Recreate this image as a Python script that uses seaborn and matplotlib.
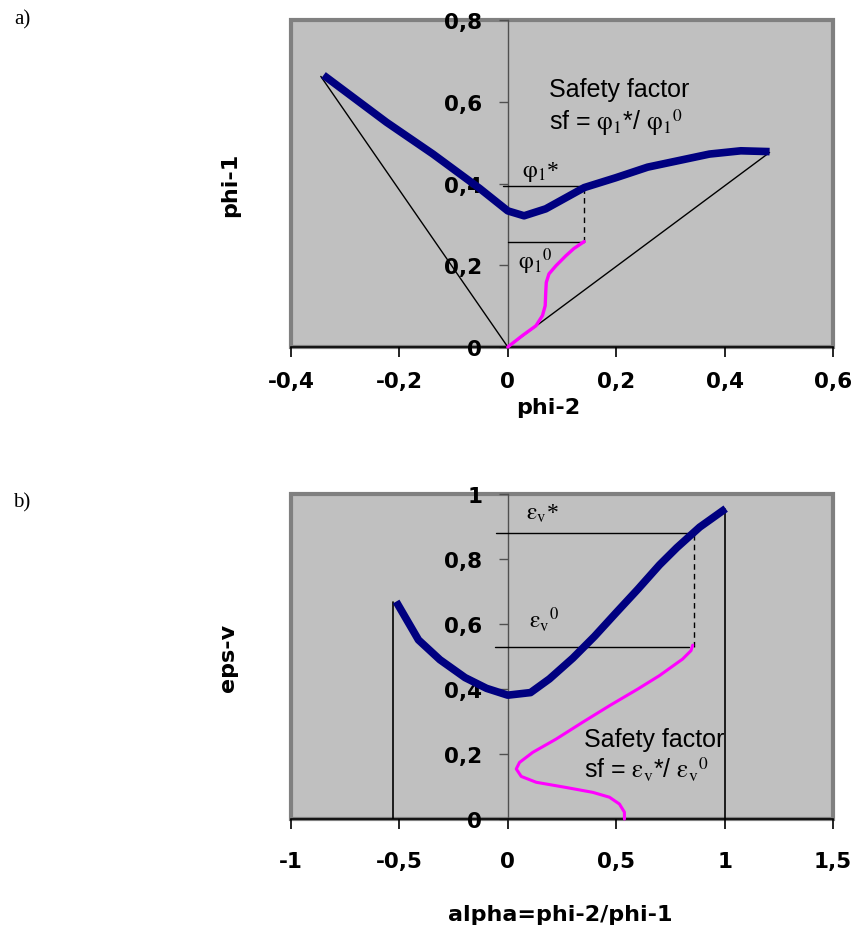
import matplotlib
matplotlib.use("Agg")
import matplotlib.pyplot as plt
import seaborn as sns

# ---------------- data: panel a) ----------------
a_phi2 = [-0.340, -0.224, -0.138, -0.052, 0.000, 0.030, 0.070, 0.141, 0.199, 0.258, 0.372, 0.430, 0.483]
a_phi1 = [0.665, 0.550, 0.472, 0.388, 0.333, 0.321, 0.338, 0.390, 0.414, 0.440, 0.472, 0.480, 0.478]
a_path_phi2 = [0.000, 0.027, 0.052, 0.064, 0.069, 0.070, 0.071, 0.076, 0.089, 0.107, 0.122, 0.141]
a_path_phi1 = [0.000, 0.028, 0.052, 0.077, 0.101, 0.134, 0.158, 0.179, 0.199, 0.223, 0.241, 0.258]
a_ray_phi2 = [-0.345, 0.0, 0.483]
a_ray_phi1 = [0.662, 0.0, 0.476]
a_level_star = 0.393
a_level_zero = 0.258
a_level_x = 0.141
a_xticks = [-0.4, -0.2, 0.0, 0.2, 0.4, 0.6]
a_xtick_labels = ["-0,4", "-0,2", "0", "0,2", "0,4", "0,6"]
a_yticks = [0.0, 0.2, 0.4, 0.6, 0.8]
a_ytick_labels = ["0", "0,2", "0,4", "0,6", "0,8"]

# ---------------- data: panel b) ----------------
b_alpha = [-0.515, -0.412, -0.313, -0.197, -0.098, 0.000, 0.105, 0.192, 0.300, 0.400, 0.500, 0.600, 0.700, 0.780, 0.885, 1.005]
b_eps = [0.669, 0.551, 0.490, 0.435, 0.402, 0.381, 0.389, 0.431, 0.495, 0.562, 0.635, 0.707, 0.782, 0.835, 0.898, 0.955]
b_path_alpha = [0.853, 0.845, 0.806, 0.699, 0.600, 0.470, 0.346, 0.223, 0.115, 0.054, 0.039, 0.062, 0.131, 0.269, 0.392, 0.469, 0.515, 0.538, 0.538]
b_path_eps = [0.535, 0.518, 0.492, 0.441, 0.400, 0.349, 0.298, 0.246, 0.205, 0.174, 0.154, 0.131, 0.113, 0.097, 0.082, 0.067, 0.046, 0.021, 0.000]
b_bounds_alpha = [-0.53, 1.003]
b_bounds_eps = [0.669, 0.955]
b_level_star = 0.879
b_level_zero = 0.529
b_level_x = 0.857
b_xticks = [-1.0, -0.5, 0.0, 0.5, 1.0, 1.5]
b_xtick_labels = ["-1", "-0,5", "0", "0,5", "1", "1,5"]
b_yticks = [0.0, 0.2, 0.4, 0.6, 0.8, 1.0]
b_ytick_labels = ["0", "0,2", "0,4", "0,6", "0,8", "1"]

# ---------------- style ----------------
sns.set_style("white")
plt.rcParams["font.family"] = ["DejaVu Sans"]
plt.rcParams["mathtext.fontset"] = "stix"
plt.rcParams["text.color"] = "black"
plt.rcParams["axes.labelcolor"] = "black"
plt.rcParams["xtick.color"] = "black"
plt.rcParams["ytick.color"] = "black"

BG = "#C0C0C0"
EDGE = "#808080"
NAVY = "#000080"
MAG = "#FF00FF"
SANS = ["Liberation Sans", "DejaVu Sans"]
SERIF = ["Liberation Serif", "DejaVu Serif"]
TICKFS = 15.5

W, H = 853, 928
fig = plt.figure(figsize=(W / 100, H / 100), dpi=100)
ax1 = fig.add_axes([291 / W, 1 - 348 / H, 542 / W, 327 / H])
ax2 = fig.add_axes([291 / W, 1 - 820 / H, 542 / W, 325 / H])


def style_axes(ax, xlim, ylim, xticks, xlabels, yticks, ylabels, xpad):
    ax.set_xlim(*xlim)
    ax.set_ylim(*ylim)
    ax.set_facecolor(BG)
    ax.patch.set_edgecolor(EDGE)
    ax.patch.set_linewidth(3)
    for s in ("top", "right"):
        ax.spines[s].set_visible(False)
    ax.spines["left"].set_position(("data", 0))
    ax.spines["left"].set_color("#505050")
    ax.spines["left"].set_linewidth(1)
    ax.spines["bottom"].set_color("black")
    ax.spines["bottom"].set_linewidth(1.2)
    ax.set_xticks(xticks)
    ax.set_xticklabels(xlabels, fontweight="bold", fontsize=TICKFS, color="black")
    ax.set_yticks(yticks)
    ax.set_yticklabels(ylabels, fontweight="bold", fontsize=TICKFS, color="black")
    ax.tick_params(axis="x", direction="out", length=7, width=1.2, color="black", pad=xpad, bottom=True)
    ax.tick_params(axis="y", direction="out", length=6.5, width=1, color="#505050", pad=12, left=True)
    ax.grid(False)


style_axes(ax1, (-0.4, 0.6), (0, 0.8), a_xticks, a_xtick_labels, a_yticks, a_ytick_labels, 10)
style_axes(ax2, (-1.0, 1.5), (0, 1.0), b_xticks, b_xtick_labels, b_yticks, b_ytick_labels, 16)

# ---------------- panel a) ----------------
ax1.plot(a_ray_phi2, a_ray_phi1, color="black", lw=1.0, zorder=3)
ax1.plot([-0.008, a_level_x], [a_level_star, a_level_star], color="black", lw=1.0, zorder=3)
ax1.plot([0.0, a_level_x], [a_level_zero, a_level_zero], color="black", lw=1.0, zorder=3)
ax1.plot([a_level_x, a_level_x], [a_level_zero, a_level_star], color="black", lw=1.0,
         linestyle=(0, (4, 3)), zorder=3)
sns.lineplot(x=a_path_phi2, y=a_path_phi1, sort=False, estimator=None, color=MAG,
             lw=2.4, ax=ax1, zorder=4, clip_on=False)
sns.lineplot(x=a_phi2, y=a_phi1, sort=False, estimator=None, color=NAVY,
             lw=5.5, ax=ax1, zorder=5, solid_capstyle="butt", clip_on=False)

PHI = r"\mathrm{\varphi}"
EPS = r"\mathrm{\varepsilon}"
ax1.text(0.076, 0.613, "Safety factor", family=SANS, fontsize=18, va="baseline")
ax1.text(0.076, 0.533, r"sf = $%s_1$*/ $%s_1{}^0$" % (PHI, PHI), family=SANS, fontsize=18, va="baseline")
ax1.text(0.027, 0.418, r"$%s_1$*" % PHI, family=SERIF, fontsize=17, va="baseline")
ax1.text(0.019, 0.193, r"$%s_1{}^0$" % PHI, family=SERIF, fontsize=17, va="baseline")

ax1.set_xlabel("phi-2", fontweight="bold", fontsize=16)
ax1.set_ylabel("phi-1", fontweight="bold", fontsize=16)
ax1.xaxis.label.set_va("center")
ax1.yaxis.label.set_va("center")
ax1.xaxis.set_label_coords(0.474, -0.183)
ax1.yaxis.set_label_coords(-0.113, 0.5)

# ---------------- panel b) ----------------
for xa, ye in zip(b_bounds_alpha, b_bounds_eps):
    ax2.plot([xa, xa], [0, ye], color="black", lw=1.2, zorder=3)
ax2.plot([-0.056, b_level_x], [b_level_star, b_level_star], color="black", lw=1.0, zorder=3)
ax2.plot([-0.06, b_level_x - 0.02], [b_level_zero, b_level_zero], color="black", lw=1.0, zorder=3)
ax2.plot([b_level_x, b_level_x], [b_level_zero, b_level_star], color="black", lw=1.0,
         linestyle=(0, (4, 3)), zorder=3)
sns.lineplot(x=b_path_alpha, y=b_path_eps, sort=False, estimator=None, color=MAG,
             lw=2.2, ax=ax2, zorder=4, clip_on=False)
sns.lineplot(x=b_alpha, y=b_eps, sort=False, estimator=None, color=NAVY,
             lw=5.5, ax=ax2, zorder=5, solid_capstyle="butt", clip_on=False)

ax2.text(0.353, 0.226, "Safety factor", family=SANS, fontsize=18, va="baseline")
ax2.text(0.353, 0.128, r"sf = $%s_\mathrm{v}$*/ $%s_\mathrm{v}{}^0$" % (EPS, EPS), family=SANS, fontsize=18, va="baseline")
ax2.text(0.085, 0.923, r"$%s_\mathrm{v}$*" % EPS, family=SERIF, fontsize=17, va="baseline")
ax2.text(0.097, 0.590, r"$%s_\mathrm{v}{}^0$" % EPS, family=SERIF, fontsize=17, va="baseline")

ax2.set_xlabel("alpha=phi-2/phi-1", fontweight="bold", fontsize=16)
ax2.set_ylabel("eps-v", fontweight="bold", fontsize=16)
ax2.xaxis.label.set_va("center")
ax2.yaxis.label.set_va("center")
ax2.xaxis.set_label_coords(0.496, -0.292)
ax2.yaxis.set_label_coords(-0.117, 0.5)

for a in (ax1, ax2):
    leg = a.get_legend()
    if leg is not None:
        leg.remove()

fig.text(22 / W, 1 - 20 / H, "a)", family=SERIF, fontsize=15, ha="center", va="center")
fig.text(22 / W, 1 - 503 / H, "b)", family=SERIF, fontsize=15, ha="center", va="center")

fig.savefig("out.png", dpi=100)
